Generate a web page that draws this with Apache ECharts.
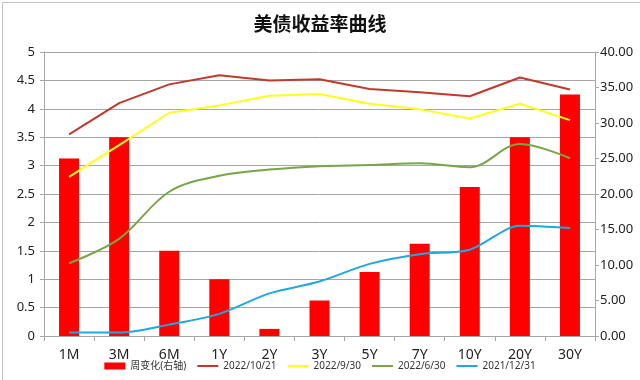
<!DOCTYPE html>
<html>
<head>
<meta charset="utf-8">
<script src="https://cdn.jsdelivr.net/npm/echarts@6/dist/echarts.min.js"></script>
<style>
html,body{margin:0;padding:0;background:#fff;}
#c{width:640px;height:380px;}
</style>
</head>
<body>
<div id="c"></div>
<script>
const categories = ['1M','3M','6M','1Y','2Y','3Y','5Y','7Y','10Y','20Y','30Y'];
const weeklyChange = [25, 28, 12, 8, 1, 5, 9, 13, 21, 28, 34];
const y20221021 = [3.55, 4.10, 4.43, 4.59, 4.50, 4.52, 4.35, 4.29, 4.22, 4.55, 4.34];
const y20220930 = [2.80, 3.36, 3.93, 4.06, 4.23, 4.26, 4.09, 3.99, 3.83, 4.09, 3.80];
const y20220630 = [1.28, 1.71, 2.54, 2.82, 2.93, 2.99, 3.01, 3.04, 2.97, 3.38, 3.13];
const y20211231 = [0.06, 0.06, 0.20, 0.39, 0.75, 0.96, 1.27, 1.44, 1.52, 1.94, 1.90];
const leftTicks = {min: 0, max: 5, interval: 0.5};
const rightTicks = {min: 0, max: 40, interval: 5};

const chart = echarts.init(document.getElementById('c'));
const gridColor = '#A6A6A6';
const font = 'Noto Sans, Noto Sans CJK SC, sans-serif';
const lineIcon = 'path://M0,0L21,0L21,2L0,2Z';
chart.setOption({
  animation: false,
  backgroundColor: '#fff',
  textStyle: {fontFamily: font},
  graphic: [{
    type: 'rect', left: 0, top: 0, silent: true,
    shape: {x: 0.5, y: 0.5, width: 639, height: 379},
    style: {fill: 'none', stroke: '#BFBFBF', lineWidth: 1}
  }],
  title: {
    text: '美债收益率曲线', left: 'center', top: 9,
    textStyle: {fontSize: 19, fontWeight: 'bold', color: '#111', fontFamily: 'Noto Sans CJK SC, sans-serif'}
  },
  grid: {left: 44, right: 45, top: 52, bottom: 44, containLabel: false},
  legend: {
    bottom: 4, left: 'center', itemGap: 11, itemWidth: 21, itemHeight: 7,
    textStyle: {fontSize: 10, color: '#333', fontFamily: font},
    data: [
      {name: '周变化(右轴)', icon: 'rect'},
      {name: '2022/10/21', icon: lineIcon}, {name: '2022/9/30', icon: lineIcon},
      {name: '2022/6/30', icon: lineIcon}, {name: '2021/12/31', icon: lineIcon}
    ]
  },
  xAxis: {
    type: 'category', data: categories, boundaryGap: true,
    axisLine: {lineStyle: {color: gridColor}},
    axisTick: {show: true, length: 5, lineStyle: {color: gridColor}},
    axisLabel: {fontSize: 14, color: '#222', margin: 12}
  },
  yAxis: [{
    type: 'value', min: leftTicks.min, max: leftTicks.max, interval: leftTicks.interval,
    axisLine: {show: true, lineStyle: {color: gridColor}},
    axisTick: {show: true, length: 4, lineStyle: {color: gridColor}},
    axisLabel: {fontSize: 13, color: '#222', margin: 9},
    splitLine: {lineStyle: {color: gridColor}}
  }, {
    type: 'value', min: rightTicks.min, max: rightTicks.max, interval: rightTicks.interval,
    axisLine: {show: true, lineStyle: {color: gridColor}},
    axisTick: {show: true, length: 4, lineStyle: {color: gridColor}},
    axisLabel: {fontSize: 13, color: '#222', margin: 5, formatter: v => v.toFixed(2)},
    splitLine: {show: false}
  }],
  series: [
    {name: '周变化(右轴)', type: 'bar', yAxisIndex: 1, data: weeklyChange, barWidth: 20,
      itemStyle: {color: '#FF0000'}},
    {name: '2022/10/21', type: 'line', data: y20221021, symbol: 'none',
      lineStyle: {color: '#C0392B', width: 2}, itemStyle: {color: '#C0392B'}},
    {name: '2022/9/30', type: 'line', data: y20220930, symbol: 'none',
      lineStyle: {color: '#FFFF1A', width: 2}, itemStyle: {color: '#FFFF1A'}},
    {name: '2022/6/30', type: 'line', data: y20220630, symbol: 'none', smooth: 0.35,
      lineStyle: {color: '#77A548', width: 2}, itemStyle: {color: '#77A548'}},
    {name: '2021/12/31', type: 'line', data: y20211231, symbol: 'none', smooth: 0.3,
      lineStyle: {color: '#1EA8E0', width: 2}, itemStyle: {color: '#1EA8E0'}}
  ]
});
</script>
</body>
</html>
